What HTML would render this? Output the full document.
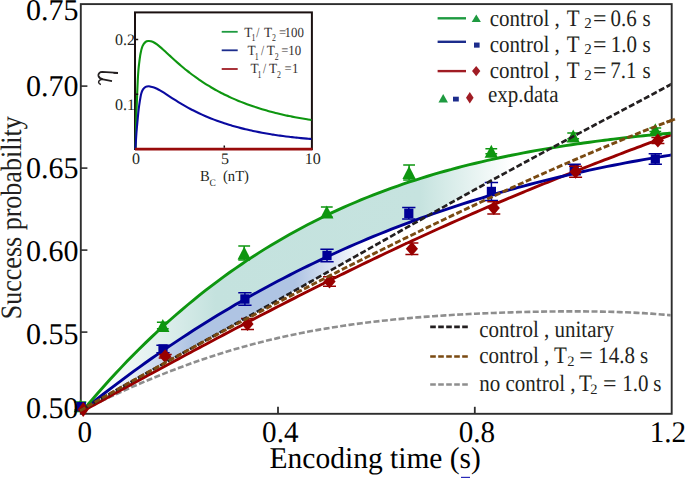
<!DOCTYPE html>
<html><head><meta charset="utf-8"><style>
html,body{margin:0;padding:0;background:#fff;}
body{width:685px;height:478px;overflow:hidden;font-family:"Liberation Serif",serif;}
svg{display:block;}
</style></head><body>
<svg width="685" height="478" viewBox="0 0 685 478">
<defs>
<linearGradient id="gt" gradientUnits="userSpaceOnUse" x1="85" y1="0" x2="512" y2="0">
<stop offset="0" stop-color="#ffffff"/>
<stop offset="0.08" stop-color="#f3f9f8"/>
<stop offset="0.306" stop-color="#c4e2de"/>
<stop offset="0.785" stop-color="#c6e3df"/>
<stop offset="1" stop-color="#ffffff"/>
</linearGradient>
<linearGradient id="gb" gradientUnits="userSpaceOnUse" x1="85" y1="0" x2="365" y2="0">
<stop offset="0" stop-color="#ffffff"/>
<stop offset="0.1" stop-color="#f4f7fb"/>
<stop offset="0.38" stop-color="#afc4e3"/>
<stop offset="0.75" stop-color="#afc4e3"/>
<stop offset="1" stop-color="#ffffff"/>
</linearGradient>
<clipPath id="cp"><rect x="81.6" y="5" width="589.2" height="408"/></clipPath>
<clipPath id="cp2"><rect x="77" y="5" width="593.8" height="413"/></clipPath>
<clipPath id="cp3"><rect x="77" y="5" width="599" height="413"/></clipPath>
</defs>
<rect width="685" height="478" fill="#fff"/>
<rect x="80.8" y="4.1" width="590.9" height="409.7" fill="none" stroke="#2e2e2e" stroke-width="1.9"/>
<line x1="278.0" y1="413" x2="278.0" y2="406.8" stroke="#2e2e2e" stroke-width="1.8"/>
<line x1="474.8" y1="413" x2="474.8" y2="406.8" stroke="#2e2e2e" stroke-width="1.8"/>
<line x1="81" y1="86.1" x2="87.4" y2="86.1" stroke="#2e2e2e" stroke-width="1.6"/>
<line x1="81" y1="168.1" x2="87.4" y2="168.1" stroke="#2e2e2e" stroke-width="1.6"/>
<line x1="81" y1="250.1" x2="87.4" y2="250.1" stroke="#2e2e2e" stroke-width="1.6"/>
<line x1="81" y1="332.1" x2="87.4" y2="332.1" stroke="#2e2e2e" stroke-width="1.6"/>
<g clip-path="url(#cp)">
<path d="M85.50,407.43 L87.50,405.07 L89.50,402.72 L91.50,400.38 L93.50,398.06 L95.50,395.75 L97.50,393.46 L99.50,391.19 L101.50,388.93 L103.50,386.68 L105.50,384.45 L107.50,382.23 L109.50,380.03 L111.50,377.85 L113.50,375.67 L115.50,373.52 L117.50,371.37 L119.50,369.24 L121.50,367.13 L123.50,365.03 L125.50,362.94 L127.50,360.87 L129.50,358.81 L131.50,356.77 L133.50,354.74 L135.50,352.72 L137.50,350.72 L139.50,348.73 L141.50,346.76 L143.50,344.80 L145.50,342.85 L147.50,340.92 L149.50,339.00 L151.50,337.09 L153.50,335.20 L155.50,333.32 L157.50,331.45 L159.50,329.60 L161.50,327.76 L163.50,325.93 L165.50,324.11 L167.50,322.31 L169.50,320.52 L171.50,318.75 L173.50,316.98 L175.50,315.23 L177.50,313.50 L179.50,311.77 L181.50,310.06 L183.50,308.36 L185.50,306.67 L187.50,304.99 L189.50,303.33 L191.50,301.68 L193.50,300.04 L195.50,298.41 L197.50,296.80 L199.50,295.20 L201.50,293.61 L203.50,292.03 L205.50,290.46 L207.50,288.90 L209.50,287.36 L211.50,285.83 L213.50,284.31 L215.50,282.80 L217.50,281.30 L219.50,279.81 L221.50,278.34 L223.50,276.87 L225.50,275.42 L227.50,273.98 L229.50,272.55 L231.50,271.13 L233.50,269.72 L235.50,268.32 L237.50,266.93 L239.50,265.56 L241.50,264.19 L243.50,262.84 L245.50,261.49 L247.50,260.16 L249.50,258.84 L251.50,257.52 L253.50,256.22 L255.50,254.93 L257.50,253.65 L259.50,252.38 L261.50,251.11 L263.50,249.86 L265.50,248.62 L267.50,247.39 L269.50,246.17 L271.50,244.96 L273.50,243.75 L275.50,242.56 L277.50,241.38 L279.50,240.21 L281.50,239.04 L283.50,237.89 L285.50,236.74 L287.50,235.61 L289.50,234.48 L291.50,233.37 L293.50,232.26 L295.50,231.16 L297.50,230.07 L299.50,228.99 L301.50,227.92 L303.50,226.86 L305.50,225.81 L307.50,224.76 L309.50,223.73 L311.50,222.70 L313.50,221.68 L315.50,220.67 L317.50,219.67 L319.50,218.68 L321.50,217.70 L323.50,216.72 L325.50,215.75 L327.50,214.80 L329.50,213.84 L331.50,212.90 L333.50,211.97 L335.50,211.04 L337.50,210.12 L339.50,209.21 L341.50,208.31 L343.50,207.42 L345.50,206.53 L347.50,205.65 L349.50,204.78 L351.50,203.91 L353.50,203.06 L355.50,202.21 L357.50,201.37 L359.50,200.53 L361.50,199.71 L363.50,198.89 L365.50,198.08 L367.50,197.27 L369.50,196.48 L371.50,195.69 L373.50,194.90 L375.50,194.13 L377.50,193.36 L379.50,192.60 L381.50,191.84 L383.50,191.09 L385.50,190.35 L387.50,189.62 L389.50,188.89 L391.50,188.17 L393.50,187.45 L395.50,186.74 L397.50,186.04 L399.50,185.34 L401.50,184.66 L403.50,183.97 L405.50,183.30 L407.50,182.63 L409.50,181.96 L411.50,181.30 L413.50,180.65 L415.50,180.01 L417.50,179.37 L419.50,178.73 L421.50,178.10 L423.50,177.48 L425.50,176.87 L427.50,176.26 L429.50,175.65 L431.50,175.05 L433.50,174.46 L435.50,173.87 L437.50,173.29 L439.50,172.71 L441.50,172.14 L443.50,171.57 L445.50,171.01 L447.50,170.46 L449.50,169.91 L451.50,169.36 L453.50,168.82 L455.50,168.29 L457.50,167.76 L459.50,167.24 L461.50,166.72 L463.50,166.20 L465.50,165.69 L467.50,165.19 L469.50,164.69 L471.50,164.20 L473.50,163.71 L475.50,163.22 L477.50,162.74 L479.50,162.26 L481.50,161.79 L483.50,161.33 L485.50,160.86 L487.50,160.41 L489.50,159.95 L491.50,159.51 L493.50,159.06 L495.50,158.62 L497.50,158.19 L499.50,157.75 L501.50,157.33 L503.50,156.90 L505.50,156.49 L507.50,156.07 L509.50,155.66 L511.50,155.25 L513.50,154.85 L515.50,154.45 L517.50,154.06 L519.50,153.67 L521.50,153.28 L523.50,152.90 L525.50,152.52 L527.50,152.14 L529.50,151.77 L531.50,151.40 L533.50,151.04 L535.50,150.68 L537.50,150.32 L539.50,149.97 L541.50,149.62 L543.50,149.27 L545.50,148.93 L547.50,148.59 L549.50,148.25 L551.50,147.92 L553.50,147.59 L555.50,147.26 L557.50,146.94 L559.50,146.62 L559.50,143.72 L557.50,144.79 L555.50,145.86 L553.50,146.93 L551.50,148.00 L549.50,149.07 L547.50,150.15 L545.50,151.22 L543.50,152.29 L541.50,153.37 L539.50,154.44 L537.50,155.52 L535.50,156.60 L533.50,157.68 L531.50,158.75 L529.50,159.83 L527.50,160.91 L525.50,161.99 L523.50,163.07 L521.50,164.16 L519.50,165.24 L517.50,166.32 L515.50,167.41 L513.50,168.49 L511.50,169.58 L509.50,170.67 L507.50,171.76 L505.50,172.84 L503.50,173.93 L501.50,175.02 L499.50,176.12 L497.50,177.21 L495.50,178.30 L493.50,179.39 L491.50,180.49 L489.50,181.58 L487.50,182.68 L485.50,183.78 L483.50,184.87 L481.50,185.97 L479.50,187.07 L477.50,188.17 L475.50,189.27 L473.50,190.37 L471.50,191.48 L469.50,192.58 L467.50,193.68 L465.50,194.79 L463.50,195.89 L461.50,197.00 L459.50,198.11 L457.50,199.21 L455.50,200.32 L453.50,201.43 L451.50,202.54 L449.50,203.65 L447.50,204.76 L445.50,205.87 L443.50,206.99 L441.50,208.10 L439.50,209.21 L437.50,210.33 L435.50,211.44 L433.50,212.56 L431.50,213.67 L429.50,214.79 L427.50,215.79 L425.50,216.50 L423.50,217.21 L421.50,217.93 L419.50,218.65 L417.50,219.38 L415.50,220.11 L413.50,220.85 L411.50,221.59 L409.50,222.33 L407.50,223.08 L405.50,223.83 L403.50,224.59 L401.50,225.35 L399.50,226.11 L397.50,226.88 L395.50,227.65 L393.50,228.43 L391.50,229.21 L389.50,230.00 L387.50,230.79 L385.50,231.58 L383.50,232.38 L381.50,233.18 L379.50,233.99 L377.50,234.80 L375.50,235.62 L373.50,236.44 L371.50,237.26 L369.50,238.09 L367.50,238.93 L365.50,239.77 L363.50,240.61 L361.50,241.46 L359.50,242.31 L357.50,243.16 L355.50,244.03 L353.50,244.89 L351.50,245.76 L349.50,246.64 L347.50,247.52 L345.50,248.40 L343.50,249.29 L341.50,250.18 L339.50,251.08 L337.50,251.98 L335.50,252.89 L333.50,253.80 L331.50,254.72 L329.50,255.64 L327.50,256.57 L325.50,257.50 L323.50,258.43 L321.50,259.37 L319.50,260.32 L317.50,261.27 L315.50,262.23 L313.50,263.19 L311.50,264.15 L309.50,265.12 L307.50,266.10 L305.50,267.08 L303.50,268.06 L301.50,269.05 L299.50,270.05 L297.50,271.05 L295.50,272.05 L293.50,273.06 L291.50,274.08 L289.50,275.10 L287.50,276.12 L285.50,277.15 L283.50,278.19 L281.50,279.23 L279.50,280.28 L277.50,281.33 L275.50,282.38 L273.50,283.44 L271.50,284.51 L269.50,285.58 L267.50,286.66 L265.50,287.74 L263.50,288.83 L261.50,289.92 L259.50,291.02 L257.50,292.12 L255.50,293.23 L253.50,294.35 L251.50,295.47 L249.50,296.59 L247.50,297.72 L245.50,298.86 L243.50,300.00 L241.50,301.14 L239.50,302.30 L237.50,303.45 L235.50,304.62 L233.50,305.79 L231.50,306.96 L229.50,308.14 L227.50,309.32 L225.50,310.51 L223.50,311.71 L221.50,312.91 L219.50,314.12 L217.50,315.33 L215.50,316.55 L213.50,317.77 L211.50,319.00 L209.50,320.24 L207.50,321.48 L205.50,322.72 L203.50,323.98 L201.50,325.23 L199.50,326.50 L197.50,327.77 L195.50,329.04 L193.50,330.32 L191.50,331.61 L189.50,332.90 L187.50,334.20 L185.50,335.50 L183.50,336.81 L181.50,338.12 L179.50,339.44 L177.50,340.77 L175.50,342.10 L173.50,343.44 L171.50,344.79 L169.50,346.14 L167.50,347.49 L165.50,348.85 L163.50,350.22 L161.50,351.59 L159.50,352.97 L157.50,354.36 L155.50,355.75 L153.50,357.15 L151.50,358.55 L149.50,359.96 L147.50,361.37 L145.50,362.79 L143.50,364.22 L141.50,365.65 L139.50,367.09 L137.50,368.54 L135.50,369.99 L133.50,371.44 L131.50,372.90 L129.50,374.37 L127.50,375.85 L125.50,377.33 L123.50,378.81 L121.50,380.31 L119.50,381.81 L117.50,383.31 L115.50,384.82 L113.50,386.34 L111.50,387.86 L109.50,389.39 L107.50,390.92 L105.50,392.46 L103.50,394.01 L101.50,395.56 L99.50,397.12 L97.50,398.69 L95.50,400.26 L93.50,401.84 L91.50,403.42 L89.50,405.01 L87.50,406.38 L85.50,407.53 Z" fill="url(#gt)"/>
<path d="M87.50,406.61 L89.50,405.01 L91.50,403.42 L93.50,401.84 L95.50,400.26 L97.50,398.69 L99.50,397.12 L101.50,395.56 L103.50,394.01 L105.50,392.46 L107.50,390.92 L109.50,389.39 L111.50,387.86 L113.50,386.34 L115.50,384.82 L117.50,383.31 L119.50,381.81 L121.50,380.31 L123.50,378.81 L125.50,377.33 L127.50,375.85 L129.50,374.37 L131.50,372.90 L133.50,371.44 L135.50,369.99 L137.50,368.54 L139.50,367.09 L141.50,365.65 L143.50,364.22 L145.50,362.79 L147.50,361.37 L149.50,359.96 L151.50,358.55 L153.50,357.15 L155.50,355.75 L157.50,354.36 L159.50,352.97 L161.50,351.59 L163.50,350.22 L165.50,348.85 L167.50,347.49 L169.50,346.14 L171.50,344.79 L173.50,343.44 L175.50,342.10 L177.50,340.77 L179.50,339.44 L181.50,338.12 L183.50,336.81 L185.50,335.50 L187.50,334.20 L189.50,332.90 L191.50,331.61 L193.50,330.32 L195.50,329.04 L197.50,327.77 L199.50,326.50 L201.50,325.23 L203.50,323.98 L205.50,322.72 L207.50,321.48 L209.50,320.24 L211.50,319.00 L213.50,317.77 L215.50,316.55 L217.50,315.33 L219.50,314.12 L221.50,312.91 L223.50,311.71 L225.50,310.51 L227.50,309.32 L229.50,308.14 L231.50,306.96 L233.50,305.79 L235.50,304.62 L237.50,303.45 L239.50,302.30 L241.50,301.14 L243.50,300.00 L245.50,298.86 L247.50,297.72 L249.50,296.59 L251.50,295.47 L253.50,294.35 L255.50,293.23 L257.50,292.12 L259.50,291.02 L261.50,289.92 L263.50,288.83 L265.50,287.74 L267.50,286.66 L269.50,285.58 L271.50,284.51 L273.50,283.44 L275.50,282.38 L277.50,281.33 L279.50,280.28 L281.50,279.23 L283.50,278.19 L285.50,277.15 L287.50,276.12 L289.50,275.10 L291.50,274.08 L293.50,273.06 L295.50,272.05 L297.50,271.05 L299.50,270.05 L301.50,269.05 L303.50,268.06 L305.50,267.08 L307.50,266.10 L309.50,265.12 L311.50,264.15 L313.50,263.19 L315.50,262.23 L317.50,261.27 L319.50,260.32 L321.50,259.37 L323.50,258.43 L325.50,257.50 L327.50,256.57 L329.50,255.64 L331.50,254.72 L333.50,253.80 L335.50,252.89 L337.50,251.98 L339.50,251.08 L341.50,250.18 L343.50,249.29 L345.50,248.40 L347.50,247.52 L349.50,246.64 L351.50,245.76 L353.50,244.89 L355.50,244.03 L357.50,243.16 L359.50,242.31 L361.50,241.46 L363.50,240.61 L365.50,239.77 L367.50,238.93 L369.50,238.09 L371.50,237.26 L373.50,236.44 L375.50,235.62 L377.50,234.80 L379.50,233.99 L381.50,233.18 L383.50,232.38 L385.50,231.58 L387.50,230.79 L389.50,230.00 L391.50,229.21 L393.50,228.43 L395.50,227.65 L397.50,226.88 L399.50,226.11 L401.50,225.35 L403.50,224.59 L405.50,223.83 L407.50,223.08 L409.50,222.33 L411.50,221.59 L413.50,220.85 L415.50,220.11 L417.50,219.38 L419.50,218.65 L421.50,217.93 L423.50,217.21 L425.50,216.50 L427.50,215.79 L429.50,215.08 L429.50,215.08 L427.50,215.91 L425.50,217.02 L423.50,218.14 L421.50,219.26 L419.50,220.38 L417.50,221.50 L415.50,222.62 L413.50,223.74 L411.50,224.86 L409.50,225.98 L407.50,227.11 L405.50,228.23 L403.50,229.35 L401.50,230.47 L399.50,231.60 L397.50,232.72 L395.50,233.84 L393.50,234.97 L391.50,236.09 L389.50,237.22 L387.50,238.34 L385.50,239.47 L383.50,240.60 L381.50,241.72 L379.50,242.85 L377.50,243.98 L375.50,245.10 L373.50,246.23 L371.50,247.36 L369.50,248.48 L367.50,249.61 L365.50,250.74 L363.50,251.87 L361.50,253.00 L359.50,254.12 L357.50,255.25 L355.50,256.38 L353.50,257.51 L351.50,258.64 L349.50,259.76 L347.50,260.89 L345.50,262.02 L343.50,263.15 L341.50,264.28 L339.50,265.41 L337.50,266.53 L335.50,267.66 L333.50,268.79 L331.50,269.92 L329.50,271.05 L327.50,272.17 L325.50,273.30 L323.50,274.43 L321.50,275.56 L319.50,276.68 L317.50,277.81 L315.50,278.94 L313.50,280.06 L311.50,281.19 L309.50,282.31 L307.50,283.44 L305.50,284.57 L303.50,285.69 L301.50,286.82 L299.50,287.94 L297.50,289.07 L295.50,290.19 L293.50,291.31 L291.50,292.44 L289.50,293.56 L287.50,294.68 L285.50,295.81 L283.50,296.93 L281.50,298.05 L279.50,299.17 L277.50,300.29 L275.50,301.42 L273.50,302.54 L271.50,303.66 L269.50,304.78 L267.50,305.90 L265.50,307.02 L263.50,308.14 L261.50,309.25 L259.50,310.37 L257.50,311.49 L255.50,312.61 L253.50,313.72 L251.50,314.84 L249.50,315.96 L247.50,317.07 L245.50,318.19 L243.50,319.30 L241.50,320.42 L239.50,321.53 L237.50,322.65 L235.50,323.76 L233.50,324.88 L231.50,325.99 L229.50,327.10 L227.50,328.21 L225.50,329.33 L223.50,330.44 L221.50,331.55 L219.50,332.66 L217.50,333.77 L215.50,334.88 L213.50,335.99 L211.50,337.10 L209.50,338.21 L207.50,339.32 L205.50,340.43 L203.50,341.54 L201.50,342.65 L199.50,343.76 L197.50,344.87 L195.50,345.98 L193.50,347.09 L191.50,348.19 L189.50,349.30 L187.50,350.41 L185.50,351.52 L183.50,352.63 L181.50,353.74 L179.50,354.84 L177.50,355.95 L175.50,357.06 L173.50,358.17 L171.50,359.28 L169.50,360.39 L167.50,361.49 L165.50,362.60 L163.50,363.71 L161.50,364.82 L159.50,365.93 L157.50,367.04 L155.50,368.15 L153.50,369.26 L151.50,370.37 L149.50,371.48 L147.50,372.60 L145.50,373.71 L143.50,374.82 L141.50,375.94 L139.50,377.05 L137.50,378.16 L135.50,379.28 L133.50,380.40 L131.50,381.51 L129.50,382.63 L127.50,383.75 L125.50,384.87 L123.50,385.99 L121.50,387.11 L119.50,388.24 L117.50,389.36 L115.50,390.48 L113.50,391.61 L111.50,392.74 L109.50,393.87 L107.50,395.00 L105.50,396.13 L103.50,397.26 L101.50,398.39 L99.50,399.53 L97.50,400.67 L95.50,401.81 L93.50,402.95 L91.50,404.09 L89.50,405.24 L87.50,406.61 Z" fill="url(#gb)"/>
<path d="M85.50,408.56 C86.50,408.08 89.50,406.63 91.50,405.67 C93.50,404.71 95.50,403.75 97.50,402.80 C99.50,401.85 101.50,400.90 103.50,399.97 C105.50,399.03 107.50,398.09 109.50,397.17 C111.50,396.24 113.50,395.32 115.50,394.40 C117.50,393.49 119.50,392.58 121.50,391.68 C123.50,390.78 125.50,389.88 127.50,389.00 C129.50,388.11 131.50,387.23 133.50,386.35 C135.50,385.48 137.50,384.62 139.50,383.76 C141.50,382.90 143.50,382.05 145.50,381.21 C147.50,380.37 149.50,379.53 151.50,378.70 C153.50,377.88 155.50,377.06 157.50,376.25 C159.50,375.44 161.50,374.64 163.50,373.84 C165.50,373.05 167.50,372.26 169.50,371.49 C171.50,370.71 173.50,369.94 175.50,369.18 C177.50,368.42 179.50,367.67 181.50,366.93 C183.50,366.19 185.50,365.45 187.50,364.73 C189.50,364.01 191.50,363.29 193.50,362.58 C195.50,361.88 197.50,361.18 199.50,360.49 C201.50,359.80 203.50,359.12 205.50,358.45 C207.50,357.78 209.50,357.12 211.50,356.46 C213.50,355.81 215.50,355.16 217.50,354.53 C219.50,353.89 221.50,353.27 223.50,352.65 C225.50,352.03 227.50,351.43 229.50,350.83 C231.50,350.23 233.50,349.64 235.50,349.05 C237.50,348.47 239.50,347.90 241.50,347.34 C243.50,346.77 245.50,346.22 247.50,345.67 C249.50,345.13 251.50,344.59 253.50,344.06 C255.50,343.53 257.50,343.01 259.50,342.50 C261.50,341.99 263.50,341.49 265.50,340.99 C267.50,340.50 269.50,340.01 271.50,339.54 C273.50,339.06 275.50,338.59 277.50,338.13 C279.50,337.67 281.50,337.22 283.50,336.77 C285.50,336.33 287.50,335.89 289.50,335.46 C291.50,335.04 293.50,334.62 295.50,334.20 C297.50,333.79 299.50,333.39 301.50,332.99 C303.50,332.60 305.50,332.21 307.50,331.83 C309.50,331.44 311.50,331.07 313.50,330.71 C315.50,330.34 317.50,329.98 319.50,329.63 C321.50,329.28 323.50,328.93 325.50,328.60 C327.50,328.26 329.50,327.93 331.50,327.60 C333.50,327.28 335.50,326.97 337.50,326.66 C339.50,326.35 341.50,326.04 343.50,325.75 C345.50,325.45 347.50,325.16 349.50,324.88 C351.50,324.59 353.50,324.32 355.50,324.04 C357.50,323.77 359.50,323.51 361.50,323.25 C363.50,322.99 365.50,322.74 367.50,322.49 C369.50,322.24 371.50,322.00 373.50,321.77 C375.50,321.53 377.50,321.30 379.50,321.08 C381.50,320.85 383.50,320.63 385.50,320.42 C387.50,320.20 389.50,319.99 391.50,319.79 C393.50,319.59 395.50,319.39 397.50,319.19 C399.50,319.00 401.50,318.81 403.50,318.62 C405.50,318.44 407.50,318.26 409.50,318.09 C411.50,317.91 413.50,317.74 415.50,317.57 C417.50,317.41 419.50,317.24 421.50,317.09 C423.50,316.93 425.50,316.77 427.50,316.62 C429.50,316.47 431.50,316.33 433.50,316.19 C435.50,316.04 437.50,315.91 439.50,315.77 C441.50,315.64 443.50,315.51 445.50,315.38 C447.50,315.25 449.50,315.13 451.50,315.01 C453.50,314.89 455.50,314.77 457.50,314.66 C459.50,314.55 461.50,314.44 463.50,314.33 C465.50,314.22 467.50,314.12 469.50,314.02 C471.50,313.92 473.50,313.82 475.50,313.73 C477.50,313.63 479.50,313.54 481.50,313.45 C483.50,313.36 485.50,313.28 487.50,313.20 C489.50,313.11 491.50,313.03 493.50,312.96 C495.50,312.88 497.50,312.81 499.50,312.73 C501.50,312.66 503.50,312.59 505.50,312.53 C507.50,312.46 509.50,312.40 511.50,312.34 C513.50,312.28 515.50,312.22 517.50,312.17 C519.50,312.11 521.50,312.06 523.50,312.01 C525.50,311.96 527.50,311.91 529.50,311.87 C531.50,311.82 533.50,311.78 535.50,311.74 C537.50,311.71 539.50,311.67 541.50,311.64 C543.50,311.60 545.50,311.57 547.50,311.55 C549.50,311.52 551.50,311.49 553.50,311.47 C555.50,311.45 557.50,311.43 559.50,311.42 C561.50,311.40 563.50,311.39 565.50,311.38 C567.50,311.37 569.50,311.37 571.50,311.37 C573.50,311.37 575.50,311.37 577.50,311.37 C579.50,311.38 581.50,311.39 583.50,311.40 C585.50,311.41 587.50,311.43 589.50,311.45 C591.50,311.47 593.50,311.49 595.50,311.52 C597.50,311.55 599.50,311.58 601.50,311.62 C603.50,311.66 605.50,311.70 607.50,311.74 C609.50,311.79 611.50,311.84 613.50,311.90 C615.50,311.95 617.50,312.02 619.50,312.08 C621.50,312.15 623.50,312.22 625.50,312.30 C627.50,312.38 629.50,312.46 631.50,312.55 C633.50,312.64 635.50,312.74 637.50,312.84 C639.50,312.95 641.50,313.06 643.50,313.17 C645.50,313.29 647.50,313.41 649.50,313.54 C651.50,313.68 653.50,313.81 655.50,313.96 C657.50,314.11 659.50,314.26 661.50,314.43 C663.50,314.59 665.58,314.77 667.50,314.94 C669.42,315.11 672.08,315.37 673.00,315.46" fill="none" stroke="#8e8e8e" stroke-width="2.6" stroke-dasharray="6 2.4"/>
<path d="M85.50,409.69 C86.50,409.13 89.50,407.46 91.50,406.35 C93.50,405.24 95.50,404.13 97.50,403.02 C99.50,401.91 101.50,400.81 103.50,399.70 C105.50,398.59 107.50,397.49 109.50,396.39 C111.50,395.29 113.50,394.18 115.50,393.09 C117.50,391.99 119.50,390.89 121.50,389.79 C123.50,388.69 125.50,387.60 127.50,386.50 C129.50,385.41 131.50,384.31 133.50,383.22 C135.50,382.13 137.50,381.04 139.50,379.95 C141.50,378.86 143.50,377.77 145.50,376.68 C147.50,375.60 149.50,374.51 151.50,373.43 C153.50,372.34 155.50,371.26 157.50,370.18 C159.50,369.09 161.50,368.01 163.50,366.93 C165.50,365.85 167.50,364.77 169.50,363.70 C171.50,362.62 173.50,361.54 175.50,360.47 C177.50,359.39 179.50,358.32 181.50,357.24 C183.50,356.17 185.50,355.10 187.50,354.03 C189.50,352.96 191.50,351.89 193.50,350.82 C195.50,349.76 197.50,348.69 199.50,347.62 C201.50,346.56 203.50,345.49 205.50,344.43 C207.50,343.37 209.50,342.31 211.50,341.25 C213.50,340.19 215.50,339.13 217.50,338.07 C219.50,337.01 221.50,335.96 223.50,334.90 C225.50,333.85 227.50,332.80 229.50,331.74 C231.50,330.69 233.50,329.64 235.50,328.59 C237.50,327.54 239.50,326.50 241.50,325.45 C243.50,324.40 245.50,323.36 247.50,322.32 C249.50,321.27 251.50,320.23 253.50,319.19 C255.50,318.15 257.50,317.11 259.50,316.08 C261.50,315.04 263.50,314.00 265.50,312.97 C267.50,311.94 269.50,310.90 271.50,309.87 C273.50,308.84 275.50,307.81 277.50,306.79 C279.50,305.76 281.50,304.74 283.50,303.71 C285.50,302.69 287.50,301.67 289.50,300.65 C291.50,299.63 293.50,298.61 295.50,297.59 C297.50,296.58 299.50,295.56 301.50,294.55 C303.50,293.54 305.50,292.53 307.50,291.52 C309.50,290.51 311.50,289.50 313.50,288.50 C315.50,287.49 317.50,286.49 319.50,285.49 C321.50,284.49 323.50,283.49 325.50,282.50 C327.50,281.50 329.50,280.51 331.50,279.51 C333.50,278.52 335.50,277.53 337.50,276.54 C339.50,275.56 341.50,274.57 343.50,273.59 C345.50,272.60 347.50,271.62 349.50,270.65 C351.50,269.67 353.50,268.69 355.50,267.72 C357.50,266.74 359.50,265.77 361.50,264.80 C363.50,263.83 365.50,262.86 367.50,261.90 C369.50,260.94 371.50,259.97 373.50,259.01 C375.50,258.05 377.50,257.10 379.50,256.14 C381.50,255.19 383.50,254.23 385.50,253.29 C387.50,252.34 389.50,251.39 391.50,250.44 C393.50,249.50 395.50,248.56 397.50,247.62 C399.50,246.68 401.50,245.74 403.50,244.81 C405.50,243.87 407.50,242.94 409.50,242.01 C411.50,241.08 413.50,240.16 415.50,239.23 C417.50,238.31 419.50,237.39 421.50,236.47 C423.50,235.55 425.50,234.64 427.50,233.73 C429.50,232.81 431.50,231.90 433.50,231.00 C435.50,230.09 437.50,229.18 439.50,228.28 C441.50,227.38 443.50,226.48 445.50,225.59 C447.50,224.69 449.50,223.80 451.50,222.91 C453.50,222.02 455.50,221.13 457.50,220.24 C459.50,219.36 461.50,218.48 463.50,217.60 C465.50,216.72 467.50,215.84 469.50,214.97 C471.50,214.10 473.50,213.23 475.50,212.36 C477.50,211.49 479.50,210.62 481.50,209.76 C483.50,208.90 485.50,208.04 487.50,207.18 C489.50,206.33 491.50,205.47 493.50,204.62 C495.50,203.77 497.50,202.92 499.50,202.08 C501.50,201.23 503.50,200.39 505.50,199.55 C507.50,198.71 509.50,197.87 511.50,197.04 C513.50,196.20 515.50,195.37 517.50,194.54 C519.50,193.71 521.50,192.88 523.50,192.06 C525.50,191.24 527.50,190.41 529.50,189.60 C531.50,188.78 533.50,187.96 535.50,187.15 C537.50,186.33 539.50,185.52 541.50,184.71 C543.50,183.90 545.50,183.10 547.50,182.29 C549.50,181.49 551.50,180.69 553.50,179.89 C555.50,179.09 557.50,178.29 559.50,177.50 C561.50,176.70 563.50,175.91 565.50,175.12 C567.50,174.33 569.50,173.54 571.50,172.76 C573.50,171.97 575.50,171.19 577.50,170.41 C579.50,169.62 581.50,168.84 583.50,168.07 C585.50,167.29 587.50,166.51 589.50,165.74 C591.50,164.96 593.50,164.19 595.50,163.42 C597.50,162.65 599.50,161.88 601.50,161.11 C603.50,160.35 605.50,159.58 607.50,158.82 C609.50,158.05 611.50,157.29 613.50,156.53 C615.50,155.77 617.50,155.01 619.50,154.25 C621.50,153.49 623.50,152.73 625.50,151.97 C627.50,151.22 629.50,150.46 631.50,149.70 C633.50,148.95 635.50,148.19 637.50,147.44 C639.50,146.69 641.50,145.93 643.50,145.18 C645.50,144.43 647.50,143.68 649.50,142.93 C651.50,142.18 653.50,141.42 655.50,140.67 C657.50,139.92 659.50,139.17 661.50,138.42 C663.50,137.67 665.58,136.89 667.50,136.17 C669.42,135.45 672.08,134.45 673.00,134.10" fill="none" stroke="#980000" stroke-width="2.9"/>
<path d="M85.50,408.21 C86.50,407.41 89.50,405.01 91.50,403.42 C93.50,401.83 95.50,400.26 97.50,398.69 C99.50,397.12 101.50,395.56 103.50,394.01 C105.50,392.46 107.50,390.92 109.50,389.39 C111.50,387.86 113.50,386.33 115.50,384.82 C117.50,383.31 119.50,381.80 121.50,380.31 C123.50,378.81 125.50,377.32 127.50,375.85 C129.50,374.37 131.50,372.90 133.50,371.44 C135.50,369.98 137.50,368.53 139.50,367.09 C141.50,365.65 143.50,364.22 145.50,362.79 C147.50,361.37 149.50,359.95 151.50,358.55 C153.50,357.14 155.50,355.75 157.50,354.36 C159.50,352.97 161.50,351.59 163.50,350.22 C165.50,348.85 167.50,347.49 169.50,346.14 C171.50,344.78 173.50,343.44 175.50,342.10 C177.50,340.77 179.50,339.44 181.50,338.12 C183.50,336.81 185.50,335.50 187.50,334.20 C189.50,332.90 191.50,331.60 193.50,330.32 C195.50,329.04 197.50,327.76 199.50,326.50 C201.50,325.23 203.50,323.97 205.50,322.72 C207.50,321.47 209.50,320.23 211.50,319.00 C213.50,317.77 215.50,316.55 217.50,315.33 C219.50,314.11 221.50,312.91 223.50,311.71 C225.50,310.51 227.50,309.32 229.50,308.14 C231.50,306.96 233.50,305.78 235.50,304.62 C237.50,303.45 239.50,302.29 241.50,301.14 C243.50,300.00 245.50,298.85 247.50,297.72 C249.50,296.59 251.50,295.46 253.50,294.35 C255.50,293.23 257.50,292.12 259.50,291.02 C261.50,289.92 263.50,288.83 265.50,287.74 C267.50,286.66 269.50,285.58 271.50,284.51 C273.50,283.44 275.50,282.38 277.50,281.33 C279.50,280.27 281.50,279.23 283.50,278.19 C285.50,277.15 287.50,276.12 289.50,275.10 C291.50,274.07 293.50,273.06 295.50,272.05 C297.50,271.04 299.50,270.04 301.50,269.05 C303.50,268.06 305.50,267.07 307.50,266.10 C309.50,265.12 311.50,264.15 313.50,263.19 C315.50,262.22 317.50,261.27 319.50,260.32 C321.50,259.37 323.50,258.43 325.50,257.50 C327.50,256.56 329.50,255.64 331.50,254.72 C333.50,253.80 335.50,252.89 337.50,251.98 C339.50,251.08 341.50,250.18 343.50,249.29 C345.50,248.40 347.50,247.51 349.50,246.64 C351.50,245.76 353.50,244.89 355.50,244.03 C357.50,243.16 359.50,242.31 361.50,241.46 C363.50,240.61 365.50,239.76 367.50,238.93 C369.50,238.09 371.50,237.26 373.50,236.44 C375.50,235.62 377.50,234.80 379.50,233.99 C381.50,233.18 383.50,232.38 385.50,231.58 C387.50,230.79 389.50,230.00 391.50,229.21 C393.50,228.43 395.50,227.65 397.50,226.88 C399.50,226.11 401.50,225.35 403.50,224.59 C405.50,223.83 407.50,223.08 409.50,222.33 C411.50,221.59 413.50,220.85 415.50,220.11 C417.50,219.38 419.50,218.65 421.50,217.93 C423.50,217.21 425.50,216.50 427.50,215.79 C429.50,215.08 431.50,214.37 433.50,213.68 C435.50,212.98 437.50,212.29 439.50,211.60 C441.50,210.92 443.50,210.24 445.50,209.56 C447.50,208.89 449.50,208.22 451.50,207.56 C453.50,206.90 455.50,206.24 457.50,205.59 C459.50,204.94 461.50,204.29 463.50,203.65 C465.50,203.01 467.50,202.38 469.50,201.75 C471.50,201.12 473.50,200.50 475.50,199.88 C477.50,199.26 479.50,198.65 481.50,198.05 C483.50,197.44 485.50,196.84 487.50,196.24 C489.50,195.65 491.50,195.05 493.50,194.47 C495.50,193.88 497.50,193.30 499.50,192.73 C501.50,192.15 503.50,191.58 505.50,191.02 C507.50,190.45 509.50,189.90 511.50,189.34 C513.50,188.79 515.50,188.24 517.50,187.69 C519.50,187.15 521.50,186.61 523.50,186.08 C525.50,185.54 527.50,185.01 529.50,184.49 C531.50,183.96 533.50,183.44 535.50,182.93 C537.50,182.42 539.50,181.91 541.50,181.40 C543.50,180.90 545.50,180.40 547.50,179.90 C549.50,179.41 551.50,178.92 553.50,178.43 C555.50,177.94 557.50,177.46 559.50,176.99 C561.50,176.51 563.50,176.04 565.50,175.57 C567.50,175.10 569.50,174.64 571.50,174.19 C573.50,173.73 575.50,173.27 577.50,172.83 C579.50,172.38 581.50,171.93 583.50,171.49 C585.50,171.05 587.50,170.62 589.50,170.19 C591.50,169.76 593.50,169.33 595.50,168.91 C597.50,168.49 599.50,168.07 601.50,167.66 C603.50,167.25 605.50,166.84 607.50,166.44 C609.50,166.03 611.50,165.63 613.50,165.24 C615.50,164.84 617.50,164.45 619.50,164.07 C621.50,163.68 623.50,163.30 625.50,162.92 C627.50,162.54 629.50,162.17 631.50,161.80 C633.50,161.43 635.50,161.07 637.50,160.71 C639.50,160.35 641.50,159.99 643.50,159.64 C645.50,159.29 647.50,158.94 649.50,158.60 C651.50,158.26 653.50,157.92 655.50,157.58 C657.50,157.25 659.50,156.92 661.50,156.59 C663.50,156.27 665.58,155.93 667.50,155.63 C669.42,155.32 672.08,154.91 673.00,154.76" fill="none" stroke="#000096" stroke-width="2.9"/>
<path d="M85.50,407.43 C86.50,406.26 89.50,402.71 91.50,400.38 C93.50,398.05 95.50,395.75 97.50,393.46 C99.50,391.18 101.50,388.92 103.50,386.68 C105.50,384.44 107.50,382.23 109.50,380.03 C111.50,377.84 113.50,375.67 115.50,373.52 C117.50,371.37 119.50,369.24 121.50,367.13 C123.50,365.02 125.50,362.94 127.50,360.87 C129.50,358.81 131.50,356.76 133.50,354.74 C135.50,352.72 137.50,350.72 139.50,348.73 C141.50,346.75 143.50,344.79 145.50,342.85 C147.50,340.91 149.50,338.99 151.50,337.09 C153.50,335.19 155.50,333.31 157.50,331.45 C159.50,329.59 161.50,327.75 163.50,325.93 C165.50,324.11 167.50,322.31 169.50,320.52 C171.50,318.74 173.50,316.98 175.50,315.23 C177.50,313.49 179.50,311.77 181.50,310.06 C183.50,308.35 185.50,306.66 187.50,304.99 C189.50,303.32 191.50,301.67 193.50,300.04 C195.50,298.41 197.50,296.79 199.50,295.20 C201.50,293.60 203.50,292.02 205.50,290.46 C207.50,288.90 209.50,287.35 211.50,285.83 C213.50,284.30 215.50,282.79 217.50,281.30 C219.50,279.81 221.50,278.33 223.50,276.87 C225.50,275.41 227.50,273.97 229.50,272.55 C231.50,271.12 233.50,269.71 235.50,268.32 C237.50,266.93 239.50,265.55 241.50,264.19 C243.50,262.83 245.50,261.49 247.50,260.16 C249.50,258.83 251.50,257.52 253.50,256.22 C255.50,254.92 257.50,253.64 259.50,252.38 C261.50,251.11 263.50,249.86 265.50,248.62 C267.50,247.38 269.50,246.16 271.50,244.96 C273.50,243.75 275.50,242.56 277.50,241.38 C279.50,240.20 281.50,239.04 283.50,237.89 C285.50,236.74 287.50,235.61 289.50,234.48 C291.50,233.36 293.50,232.26 295.50,231.16 C297.50,230.07 299.50,228.99 301.50,227.92 C303.50,226.86 305.50,225.80 307.50,224.76 C309.50,223.72 311.50,222.70 313.50,221.68 C315.50,220.67 317.50,219.67 319.50,218.68 C321.50,217.69 323.50,216.72 325.50,215.75 C327.50,214.79 329.50,213.84 331.50,212.90 C333.50,211.96 335.50,211.04 337.50,210.12 C339.50,209.21 341.50,208.31 343.50,207.42 C345.50,206.52 347.50,205.65 349.50,204.78 C351.50,203.91 353.50,203.05 355.50,202.21 C357.50,201.36 359.50,200.53 361.50,199.71 C363.50,198.89 365.50,198.07 367.50,197.27 C369.50,196.47 371.50,195.68 373.50,194.90 C375.50,194.12 377.50,193.35 379.50,192.60 C381.50,191.84 383.50,191.09 385.50,190.35 C387.50,189.61 389.50,188.88 391.50,188.17 C393.50,187.45 395.50,186.74 397.50,186.04 C399.50,185.34 401.50,184.65 403.50,183.97 C405.50,183.29 407.50,182.62 409.50,181.96 C411.50,181.30 413.50,180.65 415.50,180.01 C417.50,179.36 419.50,178.73 421.50,178.10 C423.50,177.48 425.50,176.86 427.50,176.26 C429.50,175.65 431.50,175.05 433.50,174.46 C435.50,173.87 437.50,173.29 439.50,172.71 C441.50,172.14 443.50,171.57 445.50,171.01 C447.50,170.46 449.50,169.91 451.50,169.36 C453.50,168.82 455.50,168.29 457.50,167.76 C459.50,167.23 461.50,166.72 463.50,166.20 C465.50,165.69 467.50,165.19 469.50,164.69 C471.50,164.19 473.50,163.70 475.50,163.22 C477.50,162.74 479.50,162.26 481.50,161.79 C483.50,161.32 485.50,160.86 487.50,160.41 C489.50,159.95 491.50,159.50 493.50,159.06 C495.50,158.62 497.50,158.18 499.50,157.75 C501.50,157.32 503.50,156.90 505.50,156.49 C507.50,156.07 509.50,155.66 511.50,155.25 C513.50,154.85 515.50,154.45 517.50,154.06 C519.50,153.66 521.50,153.28 523.50,152.90 C525.50,152.52 527.50,152.14 529.50,151.77 C531.50,151.40 533.50,151.04 535.50,150.68 C537.50,150.32 539.50,149.96 541.50,149.62 C543.50,149.27 545.50,148.92 547.50,148.59 C549.50,148.25 551.50,147.92 553.50,147.59 C555.50,147.26 557.50,146.94 559.50,146.62 C561.50,146.30 563.50,145.99 565.50,145.68 C567.50,145.37 569.50,145.07 571.50,144.77 C573.50,144.47 575.50,144.17 577.50,143.88 C579.50,143.59 581.50,143.31 583.50,143.02 C585.50,142.74 587.50,142.46 589.50,142.19 C591.50,141.92 593.50,141.65 595.50,141.38 C597.50,141.12 599.50,140.86 601.50,140.60 C603.50,140.35 605.50,140.09 607.50,139.84 C609.50,139.60 611.50,139.35 613.50,139.11 C615.50,138.87 617.50,138.63 619.50,138.40 C621.50,138.16 623.50,137.93 625.50,137.71 C627.50,137.48 629.50,137.26 631.50,137.04 C633.50,136.82 635.50,136.60 637.50,136.39 C639.50,136.18 641.50,135.97 643.50,135.76 C645.50,135.56 647.50,135.36 649.50,135.16 C651.50,134.96 653.50,134.76 655.50,134.57 C657.50,134.38 659.50,134.19 661.50,134.00 C663.50,133.82 665.58,133.63 667.50,133.45 C669.42,133.28 672.08,133.05 673.00,132.97" fill="none" stroke="#0e9610" stroke-width="2.9"/>
</g>
<path d="M80.40,401.90 V409.70 M74.50,401.90 H86.30 M74.50,409.70 H86.30" stroke="#0e9610" stroke-width="1.5" fill="none"/>
<path d="M80.40,399.30 L87.05,412.30 L73.75,412.30 Z" fill="#0e9610"/>
<path d="M162.80,322.20 V328.80 M156.90,322.20 H168.70 M156.90,328.80 H168.70" stroke="#0e9610" stroke-width="1.5" fill="none"/>
<path d="M162.80,319.00 L169.45,332.00 L156.15,332.00 Z" fill="#0e9610"/>
<path d="M244.20,246.10 V259.90 M238.30,246.10 H250.10 M238.30,259.90 H250.10" stroke="#0e9610" stroke-width="1.5" fill="none"/>
<path d="M244.20,246.50 L250.85,259.50 L237.55,259.50 Z" fill="#0e9610"/>
<path d="M326.80,207.00 V217.00 M320.90,207.00 H332.70 M320.90,217.00 H332.70" stroke="#0e9610" stroke-width="1.5" fill="none"/>
<path d="M326.80,205.50 L333.45,218.50 L320.15,218.50 Z" fill="#0e9610"/>
<path d="M409.10,165.00 V180.00 M403.20,165.00 H415.00 M403.20,180.00 H415.00" stroke="#0e9610" stroke-width="1.5" fill="none"/>
<path d="M409.10,166.00 L415.75,179.00 L402.45,179.00 Z" fill="#0e9610"/>
<path d="M491.30,148.80 V153.80 M485.40,148.80 H497.20 M485.40,153.80 H497.20" stroke="#0e9610" stroke-width="1.5" fill="none"/>
<path d="M491.30,144.80 L497.95,157.80 L484.65,157.80 Z" fill="#0e9610"/>
<path d="M573.20,133.10 V138.70 M567.30,133.10 H579.10 M567.30,138.70 H579.10" stroke="#0e9610" stroke-width="1.5" fill="none"/>
<path d="M573.20,129.40 L579.85,142.40 L566.55,142.40 Z" fill="#0e9610"/>
<path d="M655.30,127.90 V131.50 M649.40,127.90 H661.20 M649.40,131.50 H661.20" stroke="#0e9610" stroke-width="1.5" fill="none"/>
<path d="M655.30,123.20 L661.95,136.20 L648.65,136.20 Z" fill="#0e9610"/>

<rect x="76.70" y="401.90" width="9.20" height="9.40" fill="#000096"/>
<path d="M163.00,345.20 V352.80 M156.35,345.20 H169.65 M156.35,352.80 H169.65" stroke="#000096" stroke-width="1.5" fill="none"/>
<rect x="158.40" y="344.30" width="9.20" height="9.40" fill="#000096"/>
<path d="M244.90,292.70 V305.30 M238.25,292.70 H251.55 M238.25,305.30 H251.55" stroke="#000096" stroke-width="1.5" fill="none"/>
<rect x="240.30" y="294.30" width="9.20" height="9.40" fill="#000096"/>
<path d="M327.00,249.20 V261.80 M320.35,249.20 H333.65 M320.35,261.80 H333.65" stroke="#000096" stroke-width="1.5" fill="none"/>
<rect x="322.40" y="250.80" width="9.20" height="9.40" fill="#000096"/>
<path d="M408.80,207.50 V219.10 M402.15,207.50 H415.45 M402.15,219.10 H415.45" stroke="#000096" stroke-width="1.5" fill="none"/>
<rect x="404.20" y="208.60" width="9.20" height="9.40" fill="#000096"/>
<path d="M491.40,182.60 V200.40 M484.75,182.60 H498.05 M484.75,200.40 H498.05" stroke="#000096" stroke-width="1.5" fill="none"/>
<rect x="486.80" y="186.80" width="9.20" height="9.40" fill="#000096"/>
<path d="M574.20,164.30 V174.70 M567.55,164.30 H580.85 M567.55,174.70 H580.85" stroke="#000096" stroke-width="1.5" fill="none"/>
<rect x="569.60" y="164.80" width="9.20" height="9.40" fill="#000096"/>
<path d="M655.30,153.80 V164.20 M648.65,153.80 H661.95 M648.65,164.20 H661.95" stroke="#000096" stroke-width="1.5" fill="none"/>
<rect x="650.70" y="154.30" width="9.20" height="9.40" fill="#000096"/>

<path d="M83.20,401.90 L88.70,409.40 L83.20,416.90 L77.70,409.40 Z" fill="#980000"/>
<path d="M165.20,354.60 V358.00 M158.70,354.60 H171.70 M158.70,358.00 H171.70" stroke="#980000" stroke-width="1.5" fill="none"/>
<path d="M165.20,349.30 L171.30,356.30 L165.20,363.30 L159.10,356.30 Z" fill="#980000"/>
<path d="M247.50,318.40 V329.60 M241.00,318.40 H254.00 M241.00,329.60 H254.00" stroke="#980000" stroke-width="1.5" fill="none"/>
<path d="M247.50,317.00 L253.60,324.00 L247.50,331.00 L241.40,324.00 Z" fill="#980000"/>
<path d="M329.50,276.70 V286.30 M323.00,276.70 H336.00 M323.00,286.30 H336.00" stroke="#980000" stroke-width="1.5" fill="none"/>
<path d="M329.50,274.50 L335.60,281.50 L329.50,288.50 L323.40,281.50 Z" fill="#980000"/>
<path d="M411.90,243.00 V254.60 M405.40,243.00 H418.40 M405.40,254.60 H418.40" stroke="#980000" stroke-width="1.5" fill="none"/>
<path d="M411.90,241.80 L418.00,248.80 L411.90,255.80 L405.80,248.80 Z" fill="#980000"/>
<path d="M493.80,201.70 V214.10 M487.30,201.70 H500.30 M487.30,214.10 H500.30" stroke="#980000" stroke-width="1.5" fill="none"/>
<path d="M493.80,200.90 L499.90,207.90 L493.80,214.90 L487.70,207.90 Z" fill="#980000"/>
<path d="M575.60,166.30 V177.30 M569.10,166.30 H582.10 M569.10,177.30 H582.10" stroke="#980000" stroke-width="1.5" fill="none"/>
<path d="M575.60,164.80 L581.70,171.80 L575.60,178.80 L569.50,171.80 Z" fill="#980000"/>
<path d="M657.90,137.50 V143.50 M651.40,137.50 H664.40 M651.40,143.50 H664.40" stroke="#980000" stroke-width="1.5" fill="none"/>
<path d="M657.90,133.50 L664.00,140.50 L657.90,147.50 L651.80,140.50 Z" fill="#980000"/>
<g clip-path="url(#cp2)">
<path d="M80.00,410.69 C80.92,410.16 83.58,408.63 85.50,407.53 C87.42,406.43 89.50,405.24 91.50,404.09 C93.50,402.95 95.50,401.81 97.50,400.67 C99.50,399.53 101.50,398.39 103.50,397.26 C105.50,396.13 107.50,395.00 109.50,393.87 C111.50,392.74 113.50,391.61 115.50,390.48 C117.50,389.36 119.50,388.23 121.50,387.11 C123.50,385.99 125.50,384.87 127.50,383.75 C129.50,382.63 131.50,381.51 133.50,380.40 C135.50,379.28 137.50,378.16 139.50,377.05 C141.50,375.94 143.50,374.82 145.50,373.71 C147.50,372.60 149.50,371.48 151.50,370.37 C153.50,369.26 155.50,368.15 157.50,367.04 C159.50,365.93 161.50,364.82 163.50,363.71 C165.50,362.60 167.50,361.49 169.50,360.39 C171.50,359.28 173.50,358.17 175.50,357.06 C177.50,355.95 179.50,354.84 181.50,353.74 C183.50,352.63 185.50,351.52 187.50,350.41 C189.50,349.30 191.50,348.19 193.50,347.09 C195.50,345.98 197.50,344.87 199.50,343.76 C201.50,342.65 203.50,341.54 205.50,340.43 C207.50,339.32 209.50,338.21 211.50,337.10 C213.50,335.99 215.50,334.88 217.50,333.77 C219.50,332.66 221.50,331.55 223.50,330.44 C225.50,329.33 227.50,328.21 229.50,327.10 C231.50,325.99 233.50,324.88 235.50,323.76 C237.50,322.65 239.50,321.53 241.50,320.42 C243.50,319.30 245.50,318.19 247.50,317.07 C249.50,315.96 251.50,314.84 253.50,313.72 C255.50,312.61 257.50,311.49 259.50,310.37 C261.50,309.25 263.50,308.14 265.50,307.02 C267.50,305.90 269.50,304.78 271.50,303.66 C273.50,302.54 275.50,301.42 277.50,300.29 C279.50,299.17 281.50,298.05 283.50,296.93 C285.50,295.81 287.50,294.68 289.50,293.56 C291.50,292.44 293.50,291.31 295.50,290.19 C297.50,289.07 299.50,287.94 301.50,286.82 C303.50,285.69 305.50,284.57 307.50,283.44 C309.50,282.31 311.50,281.19 313.50,280.06 C315.50,278.94 317.50,277.81 319.50,276.68 C321.50,275.56 323.50,274.43 325.50,273.30 C327.50,272.17 329.50,271.05 331.50,269.92 C333.50,268.79 335.50,267.66 337.50,266.53 C339.50,265.41 341.50,264.28 343.50,263.15 C345.50,262.02 347.50,260.89 349.50,259.76 C351.50,258.64 353.50,257.51 355.50,256.38 C357.50,255.25 359.50,254.12 361.50,253.00 C363.50,251.87 365.50,250.74 367.50,249.61 C369.50,248.48 371.50,247.36 373.50,246.23 C375.50,245.10 377.50,243.98 379.50,242.85 C381.50,241.72 383.50,240.60 385.50,239.47 C387.50,238.34 389.50,237.22 391.50,236.09 C393.50,234.97 395.50,233.84 397.50,232.72 C399.50,231.60 401.50,230.47 403.50,229.35 C405.50,228.23 407.50,227.10 409.50,225.98 C411.50,224.86 413.50,223.74 415.50,222.62 C417.50,221.50 419.50,220.38 421.50,219.26 C423.50,218.14 425.50,217.02 427.50,215.91 C429.50,214.79 431.50,213.67 433.50,212.56 C435.50,211.44 437.50,210.33 439.50,209.21 C441.50,208.10 443.50,206.99 445.50,205.87 C447.50,204.76 449.50,203.65 451.50,202.54 C453.50,201.43 455.50,200.32 457.50,199.21 C459.50,198.11 461.50,197.00 463.50,195.89 C465.50,194.79 467.50,193.68 469.50,192.58 C471.50,191.48 473.50,190.37 475.50,189.27 C477.50,188.17 479.50,187.07 481.50,185.97 C483.50,184.87 485.50,183.78 487.50,182.68 C489.50,181.58 491.50,180.49 493.50,179.39 C495.50,178.30 497.50,177.21 499.50,176.12 C501.50,175.02 503.50,173.93 505.50,172.84 C507.50,171.76 509.50,170.67 511.50,169.58 C513.50,168.49 515.50,167.41 517.50,166.32 C519.50,165.24 521.50,164.16 523.50,163.07 C525.50,161.99 527.50,160.91 529.50,159.83 C531.50,158.75 533.50,157.67 535.50,156.60 C537.50,155.52 539.50,154.44 541.50,153.37 C543.50,152.29 545.50,151.22 547.50,150.15 C549.50,149.07 551.50,148.00 553.50,146.93 C555.50,145.86 557.50,144.79 559.50,143.72 C561.50,142.65 563.50,141.59 565.50,140.52 C567.50,139.45 569.50,138.38 571.50,137.32 C573.50,136.25 575.50,135.19 577.50,134.12 C579.50,133.06 581.50,132.00 583.50,130.93 C585.50,129.87 587.50,128.81 589.50,127.75 C591.50,126.69 593.50,125.62 595.50,124.56 C597.50,123.50 599.50,122.44 601.50,121.38 C603.50,120.32 605.50,119.26 607.50,118.20 C609.50,117.14 611.50,116.08 613.50,115.02 C615.50,113.96 617.50,112.90 619.50,111.84 C621.50,110.78 623.50,109.72 625.50,108.66 C627.50,107.59 629.50,106.53 631.50,105.47 C633.50,104.41 635.50,103.34 637.50,102.28 C639.50,101.22 641.50,100.15 643.50,99.09 C645.50,98.02 647.50,96.95 649.50,95.88 C651.50,94.82 653.50,93.75 655.50,92.68 C657.50,91.60 659.50,90.53 661.50,89.46 C663.50,88.38 665.58,87.26 667.50,86.23 C669.42,85.19 672.08,83.75 673.00,83.26" fill="none" stroke="#231f20" stroke-width="2.7" stroke-dasharray="6 2.5" stroke-dashoffset="1.5"/>
</g><g clip-path="url(#cp3)">
<path d="M80.00,410.78 C80.92,410.26 83.58,408.72 85.50,407.62 C87.42,406.52 89.50,405.32 91.50,404.17 C93.50,403.02 95.50,401.88 97.50,400.73 C99.50,399.59 101.50,398.45 103.50,397.31 C105.50,396.17 107.50,395.03 109.50,393.89 C111.50,392.75 113.50,391.62 115.50,390.49 C117.50,389.35 119.50,388.22 121.50,387.09 C123.50,385.96 125.50,384.84 127.50,383.71 C129.50,382.59 131.50,381.46 133.50,380.34 C135.50,379.22 137.50,378.10 139.50,376.98 C141.50,375.86 143.50,374.75 145.50,373.63 C147.50,372.52 149.50,371.40 151.50,370.29 C153.50,369.18 155.50,368.07 157.50,366.97 C159.50,365.86 161.50,364.75 163.50,363.65 C165.50,362.55 167.50,361.44 169.50,360.34 C171.50,359.24 173.50,358.15 175.50,357.05 C177.50,355.95 179.50,354.86 181.50,353.77 C183.50,352.67 185.50,351.58 187.50,350.49 C189.50,349.40 191.50,348.31 193.50,347.23 C195.50,346.14 197.50,345.06 199.50,343.98 C201.50,342.89 203.50,341.81 205.50,340.73 C207.50,339.65 209.50,338.58 211.50,337.50 C213.50,336.43 215.50,335.35 217.50,334.28 C219.50,333.21 221.50,332.14 223.50,331.07 C225.50,330.00 227.50,328.93 229.50,327.86 C231.50,326.80 233.50,325.74 235.50,324.67 C237.50,323.61 239.50,322.55 241.50,321.49 C243.50,320.43 245.50,319.37 247.50,318.32 C249.50,317.26 251.50,316.21 253.50,315.16 C255.50,314.10 257.50,313.05 259.50,312.00 C261.50,310.95 263.50,309.90 265.50,308.86 C267.50,307.81 269.50,306.77 271.50,305.72 C273.50,304.68 275.50,303.64 277.50,302.60 C279.50,301.56 281.50,300.52 283.50,299.48 C285.50,298.45 287.50,297.41 289.50,296.38 C291.50,295.34 293.50,294.31 295.50,293.28 C297.50,292.25 299.50,291.22 301.50,290.19 C303.50,289.16 305.50,288.14 307.50,287.11 C309.50,286.09 311.50,285.07 313.50,284.04 C315.50,283.02 317.50,282.00 319.50,280.98 C321.50,279.96 323.50,278.95 325.50,277.93 C327.50,276.92 329.50,275.90 331.50,274.89 C333.50,273.88 335.50,272.86 337.50,271.85 C339.50,270.84 341.50,269.84 343.50,268.83 C345.50,267.82 347.50,266.82 349.50,265.81 C351.50,264.81 353.50,263.81 355.50,262.81 C357.50,261.81 359.50,260.81 361.50,259.81 C363.50,258.81 365.50,257.81 367.50,256.82 C369.50,255.82 371.50,254.83 373.50,253.84 C375.50,252.85 377.50,251.86 379.50,250.87 C381.50,249.88 383.50,248.89 385.50,247.90 C387.50,246.92 389.50,245.93 391.50,244.95 C393.50,243.97 395.50,242.99 397.50,242.01 C399.50,241.03 401.50,240.05 403.50,239.07 C405.50,238.09 407.50,237.12 409.50,236.14 C411.50,235.17 413.50,234.20 415.50,233.23 C417.50,232.26 419.50,231.29 421.50,230.32 C423.50,229.35 425.50,228.38 427.50,227.42 C429.50,226.46 431.50,225.49 433.50,224.53 C435.50,223.57 437.50,222.61 439.50,221.65 C441.50,220.69 443.50,219.74 445.50,218.78 C447.50,217.83 449.50,216.87 451.50,215.92 C453.50,214.97 455.50,214.02 457.50,213.07 C459.50,212.13 461.50,211.18 463.50,210.23 C465.50,209.29 467.50,208.35 469.50,207.41 C471.50,206.46 473.50,205.52 475.50,204.59 C477.50,203.65 479.50,202.71 481.50,201.78 C483.50,200.85 485.50,199.91 487.50,198.98 C489.50,198.05 491.50,197.12 493.50,196.20 C495.50,195.27 497.50,194.35 499.50,193.42 C501.50,192.50 503.50,191.58 505.50,190.66 C507.50,189.74 509.50,188.83 511.50,187.91 C513.50,187.00 515.50,186.09 517.50,185.17 C519.50,184.26 521.50,183.36 523.50,182.45 C525.50,181.54 527.50,180.64 529.50,179.74 C531.50,178.84 533.50,177.94 535.50,177.04 C537.50,176.14 539.50,175.25 541.50,174.35 C543.50,173.46 545.50,172.57 547.50,171.68 C549.50,170.79 551.50,169.91 553.50,169.03 C555.50,168.14 557.50,167.26 559.50,166.38 C561.50,165.51 563.50,164.63 565.50,163.76 C567.50,162.88 569.50,162.01 571.50,161.14 C573.50,160.28 575.50,159.41 577.50,158.55 C579.50,157.69 581.50,156.83 583.50,155.97 C585.50,155.11 587.50,154.26 589.50,153.41 C591.50,152.56 593.50,151.71 595.50,150.86 C597.50,150.02 599.50,149.18 601.50,148.34 C603.50,147.50 605.50,146.66 607.50,145.83 C609.50,145.00 611.50,144.17 613.50,143.34 C615.50,142.52 617.50,141.69 619.50,140.87 C621.50,140.06 623.50,139.24 625.50,138.43 C627.50,137.61 629.50,136.81 631.50,136.00 C633.50,135.19 635.50,134.39 637.50,133.59 C639.50,132.80 641.50,132.00 643.50,131.21 C645.50,130.42 647.50,129.63 649.50,128.85 C651.50,128.07 653.50,127.29 655.50,126.52 C657.50,125.74 659.50,124.97 661.50,124.20 C663.50,123.44 665.50,122.67 667.50,121.92 C669.50,121.16 672.25,120.13 673.50,119.66 C674.75,119.19 674.75,119.19 675.00,119.10" fill="none" stroke="#7a4a12" stroke-width="2.9" stroke-dasharray="6 2.5"/>
<path d="M666.5,122.30 L674.8,119.16" fill="none" stroke="#7a4a12" stroke-width="2.7"/>
</g>
<rect x="461" y="476.8" width="9" height="1.2" fill="#2a2ab8"/>
<path d="M437.6,18.3 H466" stroke="#1e9a40" stroke-width="2.4"/>
<path d="M476.30,14.50 L480.90,22.10 L471.70,22.10 Z" fill="#1e9a40"/>
<path d="M437.6,41.8 H466" stroke="#1c2c8c" stroke-width="2.4"/>
<rect x="474.00" y="42.55" width="5.60" height="5.10" fill="#1c2c8c"/>
<path d="M437.6,71.1 H466" stroke="#a01c24" stroke-width="2.4"/>
<path d="M476.20,65.95 L480.35,71.10 L476.20,76.25 L472.05,71.10 Z" fill="#a01c24"/>
<path d="M443.20,93.95 L447.95,102.45 L438.45,102.45 Z" fill="#1e9a40"/>
<rect x="453.00" y="96.70" width="5.80" height="4.80" fill="#1c2c8c"/>
<path d="M469.80,92.00 L473.60,97.70 L469.80,103.40 L466.00,97.70 Z" fill="#a01c24"/>
<path d="M430.2,326.9 H469" stroke="#231f20" stroke-width="2.6" stroke-dasharray="5.6 2.4"/>
<path d="M430.2,356.5 H469" stroke="#7a4a12" stroke-width="2.6" stroke-dasharray="5.6 2.4"/>
<path d="M430.2,384.5 H469" stroke="#8e8e8e" stroke-width="2.6" stroke-dasharray="5.6 2.4"/>
<rect x="135" y="12.4" width="176.9" height="136.6" fill="#fff" stroke="#1a1010" stroke-width="2"/>
<path d="M135.60,149.00 C135.72,143.83 136.05,127.00 136.30,118.00 C136.55,109.00 136.85,101.42 137.10,95.00 C137.35,88.58 137.58,83.58 137.80,79.50 C138.02,75.42 138.20,73.00 138.40,70.50 C138.60,68.00 138.65,67.28 139.00,64.50 C139.35,61.72 139.93,56.83 140.50,53.80 C141.07,50.77 141.55,48.28 142.40,46.30 C143.25,44.32 144.55,42.78 145.60,41.90 C146.65,41.02 147.80,41.09 148.70,41.00 C149.60,40.91 150.12,41.11 151.00,41.36 C151.88,41.61 153.00,41.99 154.00,42.50 C155.00,43.02 156.00,43.72 157.00,44.44 C158.00,45.16 159.00,45.99 160.00,46.82 C161.00,47.66 162.00,48.55 163.00,49.44 C164.00,50.33 165.00,51.26 166.00,52.17 C167.00,53.09 168.00,54.02 169.00,54.95 C170.00,55.87 171.00,56.80 172.00,57.71 C173.00,58.62 174.00,59.53 175.00,60.43 C176.00,61.33 177.00,62.22 178.00,63.10 C179.00,63.97 180.00,64.84 181.00,65.69 C182.00,66.54 183.00,67.38 184.00,68.21 C185.00,69.04 186.00,69.85 187.00,70.65 C188.00,71.44 189.00,72.23 190.00,73.00 C191.00,73.77 192.00,74.53 193.00,75.27 C194.00,76.01 195.00,76.74 196.00,77.46 C197.00,78.17 198.00,78.88 199.00,79.56 C200.00,80.25 201.00,80.93 202.00,81.59 C203.00,82.26 204.00,82.91 205.00,83.54 C206.00,84.18 207.00,84.81 208.00,85.42 C209.00,86.04 210.00,86.64 211.00,87.23 C212.00,87.82 213.00,88.40 214.00,88.97 C215.00,89.54 216.00,90.09 217.00,90.64 C218.00,91.18 219.00,91.72 220.00,92.24 C221.00,92.77 222.00,93.28 223.00,93.79 C224.00,94.30 225.00,94.79 226.00,95.28 C227.00,95.76 228.00,96.24 229.00,96.70 C230.00,97.17 231.00,97.63 232.00,98.08 C233.00,98.53 234.00,98.97 235.00,99.40 C236.00,99.83 237.00,100.25 238.00,100.67 C239.00,101.09 240.00,101.49 241.00,101.89 C242.00,102.29 243.00,102.68 244.00,103.07 C245.00,103.45 246.00,103.82 247.00,104.19 C248.00,104.56 249.00,104.92 250.00,105.28 C251.00,105.63 252.00,105.98 253.00,106.32 C254.00,106.66 255.00,107.00 256.00,107.32 C257.00,107.65 258.00,107.97 259.00,108.29 C260.00,108.60 261.00,108.91 262.00,109.21 C263.00,109.51 264.00,109.81 265.00,110.10 C266.00,110.39 267.00,110.68 268.00,110.95 C269.00,111.23 270.00,111.51 271.00,111.77 C272.00,112.04 273.00,112.30 274.00,112.56 C275.00,112.82 276.00,113.07 277.00,113.31 C278.00,113.56 279.00,113.80 280.00,114.04 C281.00,114.27 282.00,114.51 283.00,114.73 C284.00,114.96 285.00,115.18 286.00,115.40 C287.00,115.61 288.00,115.83 289.00,116.03 C290.00,116.24 291.00,116.45 292.00,116.64 C293.00,116.84 294.00,117.04 295.00,117.23 C296.00,117.42 297.00,117.61 298.00,117.79 C299.00,117.97 300.00,118.15 301.00,118.32 C302.00,118.50 303.00,118.67 304.00,118.83 C305.00,119.00 306.00,119.16 307.00,119.32 C308.00,119.48 309.25,119.67 310.00,119.78 C310.75,119.90 311.25,119.97 311.50,120.01" fill="none" stroke="#0e9610" stroke-width="2.1"/>
<path d="M135.40,149.50 C135.58,146.58 136.13,136.92 136.50,132.00 C136.87,127.08 137.25,123.67 137.60,120.00 C137.95,116.33 138.22,113.22 138.60,110.00 C138.98,106.78 139.47,103.40 139.90,100.70 C140.33,98.00 140.68,95.68 141.20,93.80 C141.72,91.92 142.27,90.55 143.00,89.40 C143.73,88.25 144.65,87.42 145.60,86.90 C146.55,86.38 147.80,86.31 148.70,86.30 C149.60,86.29 150.12,86.64 151.00,86.83 C151.88,87.02 153.00,87.10 154.00,87.41 C155.00,87.72 156.00,88.20 157.00,88.68 C158.00,89.17 159.00,89.74 160.00,90.32 C161.00,90.90 162.00,91.53 163.00,92.16 C164.00,92.79 165.00,93.44 166.00,94.09 C167.00,94.74 168.00,95.40 169.00,96.05 C170.00,96.71 171.00,97.36 172.00,98.01 C173.00,98.66 174.00,99.30 175.00,99.93 C176.00,100.57 177.00,101.19 178.00,101.81 C179.00,102.43 180.00,103.03 181.00,103.63 C182.00,104.23 183.00,104.81 184.00,105.39 C185.00,105.97 186.00,106.53 187.00,107.09 C188.00,107.64 189.00,108.19 190.00,108.72 C191.00,109.25 192.00,109.78 193.00,110.29 C194.00,110.80 195.00,111.30 196.00,111.80 C197.00,112.29 198.00,112.77 199.00,113.24 C200.00,113.71 201.00,114.17 202.00,114.63 C203.00,115.08 204.00,115.52 205.00,115.95 C206.00,116.39 207.00,116.81 208.00,117.23 C209.00,117.64 210.00,118.05 211.00,118.44 C212.00,118.84 213.00,119.23 214.00,119.61 C215.00,119.99 216.00,120.36 217.00,120.73 C218.00,121.09 219.00,121.45 220.00,121.80 C221.00,122.15 222.00,122.49 223.00,122.82 C224.00,123.16 225.00,123.48 226.00,123.80 C227.00,124.12 228.00,124.43 229.00,124.74 C230.00,125.05 231.00,125.34 232.00,125.64 C233.00,125.93 234.00,126.22 235.00,126.50 C236.00,126.78 237.00,127.05 238.00,127.32 C239.00,127.59 240.00,127.85 241.00,128.11 C242.00,128.36 243.00,128.61 244.00,128.86 C245.00,129.10 246.00,129.34 247.00,129.58 C248.00,129.81 249.00,130.04 250.00,130.26 C251.00,130.49 252.00,130.71 253.00,130.92 C254.00,131.13 255.00,131.34 256.00,131.55 C257.00,131.75 258.00,131.95 259.00,132.15 C260.00,132.34 261.00,132.53 262.00,132.72 C263.00,132.91 264.00,133.09 265.00,133.27 C266.00,133.44 267.00,133.62 268.00,133.79 C269.00,133.96 270.00,134.12 271.00,134.28 C272.00,134.45 273.00,134.60 274.00,134.76 C275.00,134.91 276.00,135.06 277.00,135.21 C278.00,135.35 279.00,135.50 280.00,135.64 C281.00,135.78 282.00,135.91 283.00,136.04 C284.00,136.18 285.00,136.31 286.00,136.43 C287.00,136.56 288.00,136.68 289.00,136.80 C290.00,136.92 291.00,137.03 292.00,137.15 C293.00,137.26 294.00,137.37 295.00,137.48 C296.00,137.58 297.00,137.69 298.00,137.79 C299.00,137.89 300.00,137.99 301.00,138.08 C302.00,138.18 303.00,138.27 304.00,138.36 C305.00,138.45 306.00,138.54 307.00,138.62 C308.00,138.71 309.25,138.81 310.00,138.87 C310.75,138.93 311.25,138.97 311.50,138.99" fill="none" stroke="#0a0aa0" stroke-width="2.1"/>
<path d="M135,149.2 H312.5" stroke="#980a0a" stroke-width="2.8"/>
<path d="M136,39.4 H138.2 M136,94.3 H138.2 M224.3,147.8 V145.5" stroke="#1a1010" stroke-width="1.5"/>
<path d="M221.7,31.8 H237.7" stroke="#1e9a40" stroke-width="1.8"/>
<path d="M221.7,50.3 H237.7" stroke="#1c2c8c" stroke-width="1.8"/>
<path d="M221.7,69 H237.7" stroke="#a01c24" stroke-width="1.8"/>
<g font-family="Liberation Serif, serif" text-rendering="geometricPrecision">
<text transform="translate(26.10,19.70) scale(1,1)" font-size="30" fill="#000">0.75</text>
<text transform="translate(26.10,96.10) scale(1,1)" font-size="30" fill="#000">0.70</text>
<text transform="translate(26.10,177.70) scale(1,1)" font-size="30" fill="#000">0.65</text>
<text transform="translate(26.10,260.90) scale(1,1)" font-size="30" fill="#000">0.60</text>
<text transform="translate(26.10,344.40) scale(1,1)" font-size="30" fill="#000">0.55</text>
<text transform="translate(26.10,418.40) scale(1,1)" font-size="30" fill="#000">0.50</text>
<text transform="translate(77.55,441.80) scale(0.97,1)" font-size="30" fill="#000">0</text>
<text transform="translate(262.10,441.80) scale(0.97,1)" font-size="30" fill="#000">0.4</text>
<text transform="translate(458.80,441.80) scale(0.97,1)" font-size="30" fill="#000">0.8</text>
<text transform="translate(649.70,441.80) scale(0.97,1)" font-size="30" fill="#000">1.2</text>
<text transform="translate(269.60,467.70) scale(1.017,1.04)" font-size="29" fill="#000">Encoding time (s)</text>
<text transform="translate(489.80,25.70) scale(1,1.12)" font-size="21" fill="#231f20">control ,</text>
<text transform="translate(566.70,25.70) scale(1,1.12)" font-size="21" fill="#231f20">T</text>
<text transform="translate(584.30,28.20) scale(1,1)" font-size="15" fill="#231f20">2</text>
<text transform="translate(593.10,25.70) scale(1.14,1.12)" font-size="21" fill="#231f20">=</text>
<text transform="translate(610.60,25.70) scale(1,1.12)" font-size="21" fill="#231f20">0.6</text>
<text transform="translate(642.50,25.70) scale(1,1.12)" font-size="21" fill="#231f20">s</text>
<text transform="translate(489.80,51.80) scale(1,1.12)" font-size="21" fill="#231f20">control ,</text>
<text transform="translate(566.70,51.80) scale(1,1.12)" font-size="21" fill="#231f20">T</text>
<text transform="translate(584.30,54.30) scale(1,1)" font-size="15" fill="#231f20">2</text>
<text transform="translate(593.10,51.80) scale(1.14,1.12)" font-size="21" fill="#231f20">=</text>
<text transform="translate(610.70,51.80) scale(1,1.12)" font-size="21" fill="#231f20">1.0</text>
<text transform="translate(642.50,51.80) scale(1,1.12)" font-size="21" fill="#231f20">s</text>
<text transform="translate(489.80,77.80) scale(1,1.12)" font-size="21" fill="#231f20">control ,</text>
<text transform="translate(566.70,77.80) scale(1,1.12)" font-size="21" fill="#231f20">T</text>
<text transform="translate(584.30,80.30) scale(1,1)" font-size="15" fill="#231f20">2</text>
<text transform="translate(593.10,77.80) scale(1.14,1.12)" font-size="21" fill="#231f20">=</text>
<text transform="translate(610.20,77.80) scale(1,1.12)" font-size="21" fill="#231f20">7.1</text>
<text transform="translate(642.50,77.80) scale(1,1.12)" font-size="21" fill="#231f20">s</text>
<text transform="translate(487.90,102.40) scale(1,1.12)" font-size="21" fill="#231f20">exp.data</text>
<text transform="translate(479.30,336.80) scale(1,1.12)" font-size="21" fill="#231f20">control , unitary</text>
<text transform="translate(479.30,362.80) scale(1,1.12)" font-size="21" fill="#231f20">control ,</text>
<text transform="translate(554.00,362.80) scale(1,1.12)" font-size="21" fill="#231f20">T</text>
<text transform="translate(567.20,365.80) scale(1,1)" font-size="14.5" fill="#231f20">2</text>
<text transform="translate(579.30,362.80) scale(1.14,1.12)" font-size="21" fill="#231f20">=</text>
<text transform="translate(598.20,362.80) scale(1,1.12)" font-size="21" fill="#231f20">14.8</text>
<text transform="translate(640.10,362.80) scale(1,1.12)" font-size="21" fill="#231f20">s</text>
<text transform="translate(479.30,390.90) scale(1,1.12)" font-size="21" fill="#231f20">no control ,</text>
<text transform="translate(579.10,390.90) scale(1,1.12)" font-size="21" fill="#231f20">T</text>
<text transform="translate(590.30,393.90) scale(1,1)" font-size="14.5" fill="#231f20">2</text>
<text transform="translate(603.00,390.90) scale(1.14,1.12)" font-size="21" fill="#231f20">=</text>
<text transform="translate(622.30,390.90) scale(1,1.12)" font-size="21" fill="#231f20">1.0</text>
<text transform="translate(653.30,390.90) scale(1,1.12)" font-size="21" fill="#231f20">s</text>
<text transform="translate(115.00,44.70) scale(1,1)" font-size="16" fill="#231f20">0.2</text>
<text transform="translate(115.00,110.40) scale(1,1)" font-size="16" fill="#231f20">0.1</text>
<text transform="translate(131.90,164.10) scale(1,1)" font-size="16" fill="#231f20">0</text>
<text transform="translate(221.00,164.10) scale(1,1)" font-size="16" fill="#231f20">5</text>
<text transform="translate(304.80,164.10) scale(1,1)" font-size="16" fill="#231f20">10</text>
<text transform="translate(200.10,180.50) scale(0.95,1)" font-size="15.4" fill="#231f20">B</text>
<text transform="translate(209.50,186.20) scale(0.95,1)" font-size="10" fill="#231f20">C</text>
<text transform="translate(223.00,180.50) scale(0.95,1)" font-size="15.4" fill="#231f20">(nT)</text>
<text transform="translate(244.30,36.60) scale(0.95,1)" font-size="14" fill="#352f2f">T</text>
<text transform="translate(251.50,41.10) scale(0.75,1)" font-size="10.5" fill="#352f2f">1</text>
<text transform="translate(256.30,36.60) scale(0.8,1)" font-size="14" fill="#352f2f">/</text>
<text transform="translate(264.00,36.60) scale(0.95,1)" font-size="14" fill="#352f2f">T</text>
<text transform="translate(271.90,41.10) scale(0.75,1)" font-size="10.5" fill="#352f2f">2</text>
<text transform="translate(278.90,36.60) scale(0.9,1)" font-size="14" fill="#352f2f">=</text>
<text transform="translate(284.50,36.60) scale(0.92,1)" font-size="14" fill="#352f2f">100</text>
<text transform="translate(247.60,55.10) scale(0.95,1)" font-size="14" fill="#352f2f">T</text>
<text transform="translate(254.80,59.60) scale(0.75,1)" font-size="10.5" fill="#352f2f">1</text>
<text transform="translate(261.00,55.10) scale(0.8,1)" font-size="14" fill="#352f2f">/</text>
<text transform="translate(266.80,55.10) scale(0.95,1)" font-size="14" fill="#352f2f">T</text>
<text transform="translate(274.70,59.60) scale(0.75,1)" font-size="10.5" fill="#352f2f">2</text>
<text transform="translate(281.30,55.10) scale(0.9,1)" font-size="14" fill="#352f2f">=</text>
<text transform="translate(288.20,55.10) scale(0.92,1)" font-size="14" fill="#352f2f">10</text>
<text transform="translate(250.40,73.30) scale(0.95,1)" font-size="14" fill="#352f2f">T</text>
<text transform="translate(257.60,77.80) scale(0.75,1)" font-size="10.5" fill="#352f2f">1</text>
<text transform="translate(262.90,73.30) scale(0.8,1)" font-size="14" fill="#352f2f">/</text>
<text transform="translate(269.10,73.30) scale(0.95,1)" font-size="14" fill="#352f2f">T</text>
<text transform="translate(277.00,77.80) scale(0.75,1)" font-size="10.5" fill="#352f2f">2</text>
<text transform="translate(284.50,73.30) scale(0.9,1)" font-size="14" fill="#352f2f">=</text>
<text transform="translate(291.90,73.30) scale(0.92,1)" font-size="14" fill="#352f2f">1</text>
<text transform="translate(20.8,217.7) rotate(-90) scale(0.882,1)" font-size="29.5" text-anchor="middle" fill="#231f20">Success probability</text>
<path d="M118,72.9 L102.2,71.9 C99.7,71.9 98.1,73.7 98.4,75.7 C98.8,77.6 100.6,78.8 103,79.3 L112,81.1" fill="none" stroke="#231f20" stroke-width="1.75" stroke-linecap="butt"/>
<path d="M103,79.3 C100.6,79.4 98.5,80.6 98.6,82.2 C98.7,83.3 99.6,84.1 100.9,84.5" fill="none" stroke="#231f20" stroke-width="1.45"/>
<path d="M113.5,72.4 L118,72.7 L118,73.9 L113.5,73.7 Z" fill="#231f20"/>
</g>
</svg>
</body></html>
